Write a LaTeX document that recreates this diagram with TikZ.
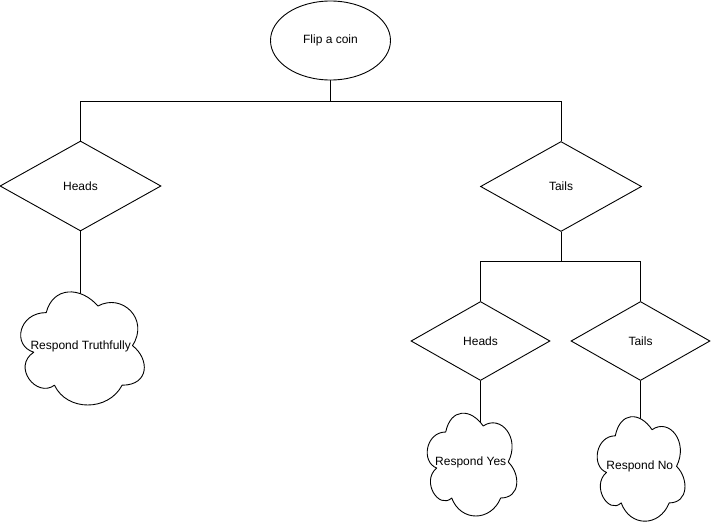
\documentclass[tikz,border=0pt]{standalone}
\usepackage{fontspec}
\setmainfont{Liberation Sans}
\usetikzlibrary{shapes.geometric}
\pgfdeclarelayer{background}
\pgfsetlayers{background,main}
\tikzset{
  base/.style={draw=black, line width=0.9pt, fill=white, font=\fontsize{12}{14}\selectfont, text=black, inner sep=0pt},
  oval/.style={base, ellipse, minimum width=120pt, minimum height=79pt},
  bigdia/.style={base, diamond, minimum width=161pt, minimum height=90pt},
  smalldia/.style={base, diamond, minimum width=139pt, minimum height=79pt},
  cloudtext/.style={font=\fontsize{12}{14}\selectfont, text=black, inner sep=0pt},
  link/.style={draw=black, line width=0.9pt},
  cloudline/.style={draw=black, line width=0.9pt, fill=white, line join=round}
}
\newcommand\mxcloud[4]{%
  \begin{scope}[shift={(#1,#2)}, xscale=#3, yscale=#4]
    \path[cloudline] (0.25,0.25) .. controls (0.05,0.25) and (0,0.5) .. (0.16,0.55)
      .. controls (0,0.66) and (0.18,0.9) .. (0.31,0.8)
      .. controls (0.4,1) and (0.7,1) .. (0.8,0.8)
      .. controls (1,0.8) and (1,0.6) .. (0.875,0.5)
      .. controls (1,0.3) and (0.8,0.1) .. (0.625,0.2)
      .. controls (0.5,0.05) and (0.3,0.05) .. (0.25,0.25) -- cycle;
  \end{scope}}
\begin{document}
\begin{tikzpicture}[x=1pt, y=-1pt]
  \useasboundingbox (0,0) rectangle (711,527);
  % nodes
  \node[oval] (coin) at (330.5,40.5) {Flip a coin};
  \node[bigdia] (h1) at (80.5,186) {Heads};
  \node[bigdia] (t1) at (561,186.5) {Tails};
  \node[smalldia] (h2) at (480.5,341) {Heads};
  \node[smalldia] (t2) at (640.5,341) {Tails};
  % clouds
  \mxcloud{11.7}{279.6}{138}{132}
  \node[cloudtext] (c1) at (80.7,346.5) {Respond Truthfully};
  \mxcloud{420.7}{402}{100}{120}
  \node[cloudtext] (c2) at (470.7,462) {Respond Yes};
  \mxcloud{590.8}{405.3}{98}{122}
  \node[cloudtext] (c3) at (639.8,466.3) {Respond No};
  \coordinate (j1) at (330.5,101);
  \coordinate (j2) at (561,261.5);
  % connectors
  \begin{pgfonlayer}{background}
    \draw[link] (coin.south) -- (j1);
    \draw[link] (j1) -| (h1.north);
    \draw[link] (j1) -| (t1.north);
    \draw[link] (h1.south) -- (h1.south |- c1.center);
    \draw[link] (t1.south) -- (j2);
    \draw[link] (j2) -| (h2.north);
    \draw[link] (j2) -| (t2.north);
    \draw[link] (h2.south) -- (h2.south |- c2.center);
    \draw[link] (t2.south) -- (t2.south |- c3.center);
  \end{pgfonlayer}
\end{tikzpicture}
\end{document}
